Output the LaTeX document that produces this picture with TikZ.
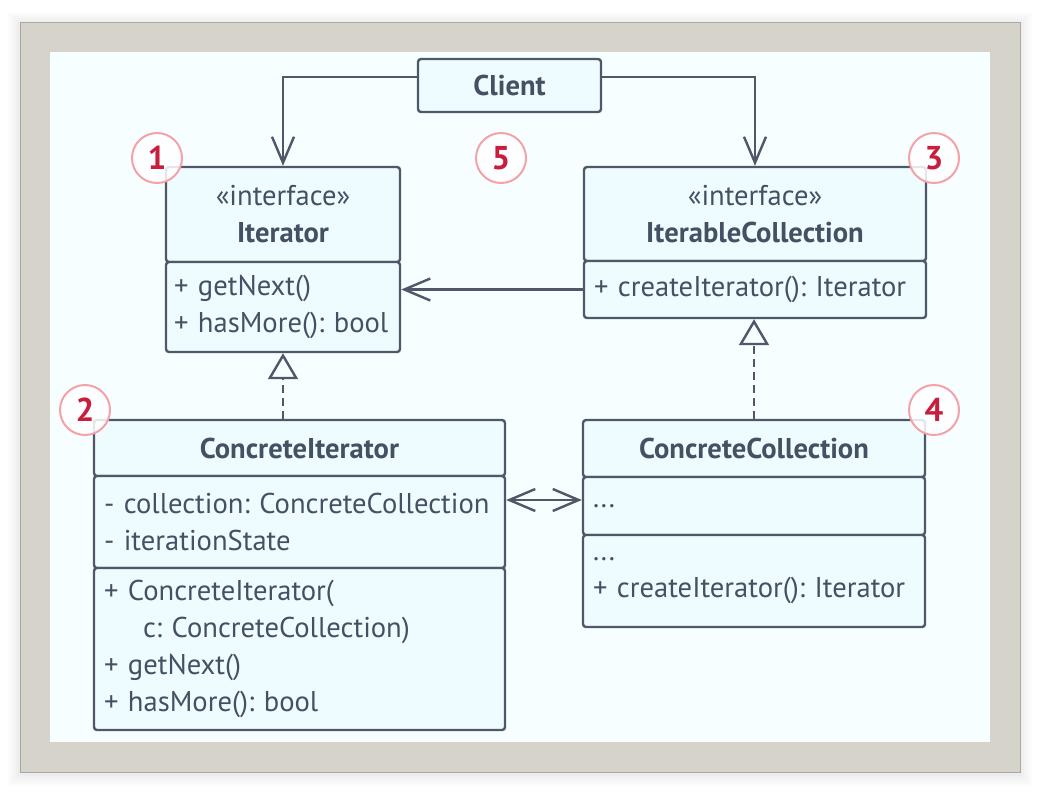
\documentclass[tikz,border=0pt]{standalone}
\usepackage{fontspec}
\setmainfont{PT Sans}
\usetikzlibrary{arrows.meta}
\usetikzlibrary{positioning}
\frenchspacing

\definecolor{framegray}{HTML}{D6D3CB}
\definecolor{frameline}{HTML}{A9A79F}
\definecolor{paper}{HTML}{F7FEFF}
\definecolor{boxfill}{HTML}{EFFCFF}
\definecolor{umlline}{HTML}{4E5868}
\definecolor{umltext}{HTML}{465062}
\definecolor{numline}{HTML}{F4A2A8}
\definecolor{numtext}{HTML}{C81E3C}

\tikzset{
  umlbox/.style={draw=umlline,fill=boxfill,line width=2.4pt,rounded corners=3pt,
    inner ysep=0pt,text=umltext,font=\fontsize{28.6}{37}\selectfont},
  headbox/.style={umlbox,align=center},
  listbox/.style={umlbox,align=left,inner xsep=10pt},
  numcirc/.style={circle,draw=numline,line width=2pt,fill=white,fill opacity=0.85,
    text opacity=1,minimum size=50pt,inner sep=0pt,text=numtext,
    font=\fontsize{33}{33}\selectfont\bfseries},
  link/.style={draw=umlline,line width=2.4pt},
  vhead/.tip={Straight Barb[length=26pt,width=22pt,line width=2.4pt]},
  openhead/.style={-vhead},
  realize/.style={dash pattern=on 8pt off 5pt,
    -{Triangle[open,length=26pt,width=30pt,line width=2.4pt,fill=paper]}}
}

\begin{document}
\begin{tikzpicture}[x=1pt,y=-1pt]
  \useasboundingbox (0,0) rectangle (1040,796);
  \fill[white] (0,0) rectangle (1040,796);
  \foreach \s in {2,4,...,12}
    \fill[black,opacity=0.012] (20-\s,22-\s+2) rectangle (1020+\s,772+\s+2);
  \draw[fill=framegray,draw=frameline,line width=1pt] (20,22) rectangle (1020,772);
  \fill[paper] (50,52) rectangle (990,742);

  % boxes
  \node[headbox,minimum width=183pt,minimum height=53pt] (client) at (509.5,85.5) {\bfseries Client};

  \node[headbox,minimum width=234pt,minimum height=95pt] (iter) at (283,214.5)
    {«interface»\\\bfseries Iterator};
  \node[listbox,inner xsep=8pt,text width=218pt,minimum height=90pt] (iterm) at (283,307)
    {+ getNext()\\\mbox{+ hasMore(): bool}};

  \node[headbox,minimum width=342pt,minimum height=94pt] (icoll) at (755,214)
    {«interface»\\\bfseries IterableCollection};
  \node[listbox,text width=322pt,minimum height=57pt] (icollm) at (755,289.5)
    {+ createIterator(): Iterator};

  \node[headbox,minimum width=411pt,minimum height=56pt] (citer) at (299.5,448)
    {\bfseries ConcreteIterator};
  \node[listbox,text width=391pt,minimum height=92pt] (citerf) at (299.5,522)
    {- collection: ConcreteCollection\\- iterationState};
  \node[listbox,text width=391pt,minimum height=162pt] (citerm) at (299.5,649)
    {+ ConcreteIterator(\\\hspace*{39pt}c: ConcreteCollection)\\+ getNext()\\+ hasMore(): bool};

  \node[headbox,minimum width=342pt,minimum height=57pt] (ccoll) at (754,448.5)
    {\bfseries ConcreteCollection};
  \node[listbox,text width=322pt,minimum height=58pt] (ccollf) at (754,506)
    {...};
  \node[listbox,text width=322pt,minimum height=92pt] (ccollm) at (754,581)
    {...\\+ createIterator(): Iterator};

  % connectors
  \draw[link,openhead] ([yshift=8.5pt]client.west) -| (iter.north);
  \draw[link,openhead] ([yshift=8.5pt]client.east) -| (icoll.north);
  \draw[link,openhead] (icollm.west) -- (icollm.west -| iterm.east);
  \draw[link,realize] (iterm.south |- citer.north) -- (iterm.south);
  \draw[link,realize] (ccoll.north) -- (ccoll.north |- icollm.south);
  \draw[link,vhead-vhead]
    ([yshift=6pt]ccollf.west -| citerf.east) -- ([yshift=6pt]ccollf.west);

  % numbers
  \node[numcirc] (n1) at (157,158) {1};
  \node[numcirc] (n5) at (501,158) {5};
  \node[numcirc] (n3) at (934,158) {3};
  \node[numcirc] (n2) at (85,410) {2};
  \node[numcirc] (n4) at (934,410) {4};
\end{tikzpicture}
\end{document}
